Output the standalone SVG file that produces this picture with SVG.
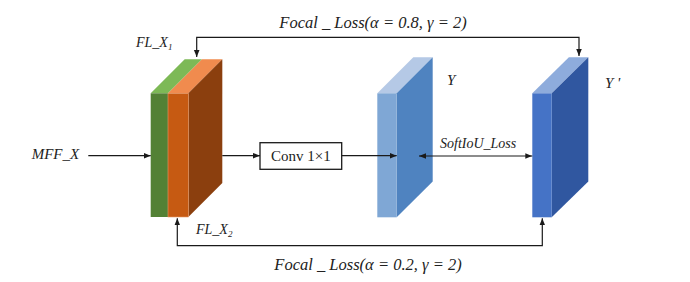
<svg xmlns="http://www.w3.org/2000/svg" width="690" height="282" viewBox="0 0 690 282">
<style>
.t{font-family:"Liberation Serif","Times New Roman",serif;font-style:italic;fill:#222;}
.u{font-family:"Liberation Serif","Times New Roman",serif;fill:#222;}
.c{stroke:#1a1a1a;stroke-width:1.2;fill:none;}
</style>
<defs>
<marker id="ah" viewBox="0 0 10 10" refX="10" refY="5" markerWidth="7" markerHeight="7" orient="auto-start-reverse" markerUnits="userSpaceOnUse">
<path d="M0,1 L10,5 L0,9 z" fill="#1a1a1a"/>
</marker>
</defs>
<rect width="690" height="282" fill="#fff"/>
<g id="fl-block">
<polygon points="150.7,93.3 168,93.3 202,59.3 184.7,59.3" fill="#7DB956"/>
<polygon points="168,93.3 188.3,93.3 222.3,59.3 202,59.3" fill="#F08B4E"/>
<polygon points="188.3,93.3 222.3,59.3 222.3,183 188.3,217" fill="#8B3F0E"/>
<rect x="150.7" y="93.3" width="17.3" height="123.7" fill="#538135"/>
<rect x="168" y="93.3" width="20.3" height="123.7" fill="#C65A12" stroke="#E79A6A" stroke-width="0.6"/>
</g>
<g id="y-block">
<polygon points="377.3,93.3 396.7,93.3 432.7,57.3 413.3,57.3" fill="#B5C9E6"/>
<polygon points="396.7,93.3 432.7,57.3 432.7,181.5 396.7,217.3" fill="#4F83C0"/>
<rect x="377.3" y="93.3" width="19.4" height="124" fill="#7FA7D5"/>
</g>
<g id="yp-block">
<polygon points="532.3,93.3 551.7,93.3 588.3,57.3 568.9,57.3" fill="#8EACDC"/>
<polygon points="551.7,93.3 588.3,57.3 588.3,181.5 551.7,217.3" fill="#3057A0"/>
<rect x="532.3" y="93.3" width="19.4" height="124" fill="#4573C6"/>
</g>
<g id="conv">
<rect x="260" y="142.7" width="81.7" height="26.6" fill="#fff" stroke="#1a1a1a" stroke-width="1.3"/>
<text class="u" x="300.8" y="161" font-size="15" text-anchor="middle">Conv 1×1</text>
</g>
<g id="labels">
<text class="t" x="136" y="47" font-size="14">FL_X<tspan font-size="9" dy="3">1</tspan></text>
<text class="t" x="196" y="234" font-size="14">FL_X<tspan font-size="9" dy="3">2</tspan></text>
<text class="t" x="31.7" y="159" font-size="15">MFF_X</text>
<text class="t" x="447" y="85" font-size="15">Y</text>
<text class="t" x="605" y="88" font-size="15">Y '</text>
<text class="t" x="440" y="148" font-size="14">SoftIoU_Loss</text>
<text class="t" x="373" y="28" font-size="16.5" text-anchor="middle">Focal _ Loss(α = 0.8, γ = 2)</text>
<text class="t" x="368" y="270" font-size="16.5" text-anchor="middle">Focal _ Loss(α = 0.2, γ = 2)</text>
</g>
<g id="connectors">
<path class="c" d="M88.3,155.7 L150.7,155.7" marker-end="url(#ah)"/>
<path class="c" d="M222.3,155.7 L260,155.7" marker-end="url(#ah)"/>
<path class="c" d="M341.7,155.7 L396.7,155.7" marker-end="url(#ah)"/>
<path class="c" d="M419,156 L532.3,156" marker-start="url(#ah)" marker-end="url(#ah)"/>
<path class="c" d="M196.7,57 L196.7,37.3 L579,37.3 L579,56" marker-start="url(#ah)" marker-end="url(#ah)"/>
<path class="c" d="M177.3,218.3 L177.3,245.7 L542.3,245.7 L542.3,218.3" marker-start="url(#ah)" marker-end="url(#ah)"/>
</g>
</svg>
